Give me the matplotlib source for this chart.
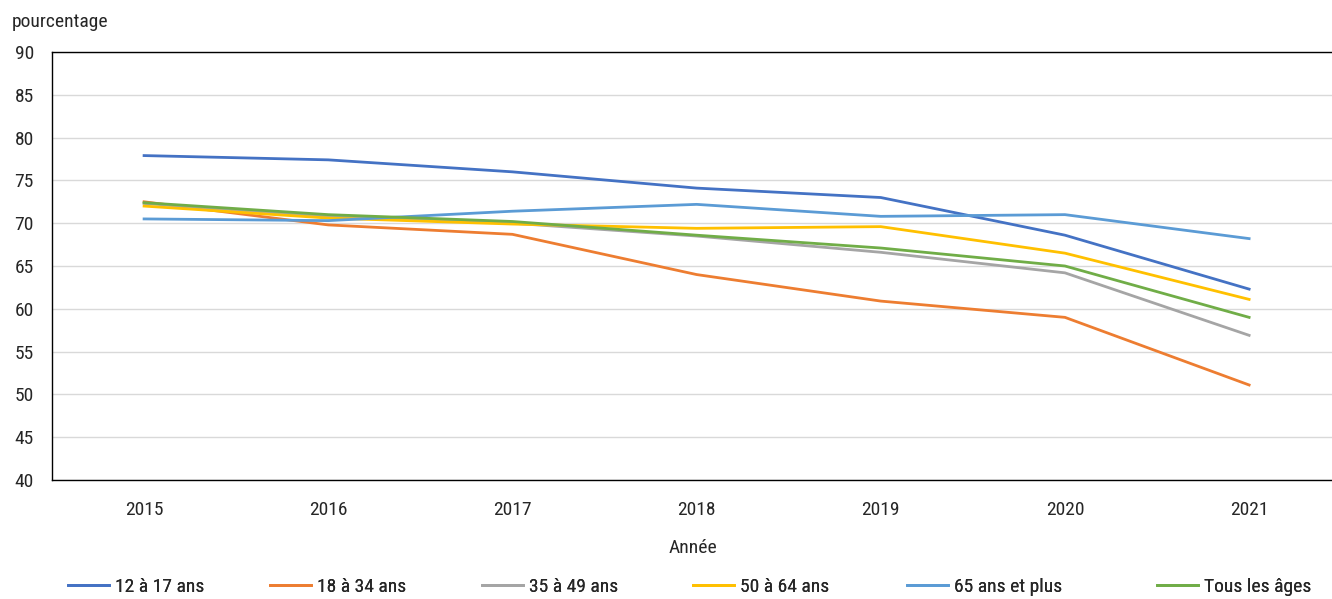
import matplotlib
matplotlib.use("Agg")
import matplotlib.pyplot as plt
from matplotlib import font_manager

names = {f.name for f in font_manager.fontManager.ttflist}
fam = [f for f in ["Liberation Sans Narrow", "Roboto Condensed", "Liberation Sans"] if f in names] + ["DejaVu Sans"]
plt.rcParams['font.family'] = fam
TXT = "#262626"
FS = 14

years = ["2015", "2016", "2017", "2018", "2019", "2020", "2021"]
s_12_17 = [77.9, 77.4, 76.0, 74.1, 73.0, 68.6, 62.3]
s_18_34 = [72.5, 69.8, 68.7, 64.0, 60.9, 59.0, 51.1]
s_35_49 = [72.3, 70.8, 70.0, 68.5, 66.6, 64.2, 56.9]
s_50_64 = [72.0, 70.6, 69.9, 69.4, 69.6, 66.5, 61.1]
s_65 = [70.5, 70.3, 71.4, 72.2, 70.8, 71.0, 68.2]
s_tous = [72.4, 71.0, 70.2, 68.6, 67.1, 65.0, 59.0]

series = [
    ("12 à 17 ans", s_12_17, "#4472C4"),
    ("18 à 34 ans", s_18_34, "#ED7D31"),
    ("35 à 49 ans", s_35_49, "#A5A5A5"),
    ("50 à 64 ans", s_50_64, "#FFC000"),
    ("65 ans et plus", s_65, "#5B9BD5"),
    ("Tous les âges", s_tous, "#70AD47"),
]

W, H = 1332, 599
fig = plt.figure(figsize=(W / 100, H / 100), dpi=100)
left, right, top, bottom = 52, 1332, 52, 480
ax = fig.add_axes([left / W, 1 - bottom / H, (right - left) / W, (bottom - top) / H])

x = list(range(len(years)))
lines = []
for name, vals, col in series:
    ln, = ax.plot(x, vals, color=col, lw=2.0, label=name, solid_joinstyle="round", zorder=3)
    lines.append(ln)

ax.set_ylim(40, 90)
ax.set_yticks(range(40, 91, 5))
ax.set_xlim(-0.5, 6.45)
ax.set_xticks(x)
ax.set_xticklabels(years)
ax.grid(axis="y", color="#D9D9D9", lw=1.0, zorder=0)
ax.set_axisbelow(True)
for s in ["top", "bottom", "left"]:
    ax.spines[s].set_color("black")
    ax.spines[s].set_linewidth(1.0)
ax.spines["right"].set_visible(False)
ax.tick_params(axis="both", length=0, labelsize=FS, colors=TXT)
ax.tick_params(axis="x", pad=15)
ax.tick_params(axis="y", pad=13)

fig.text(693 / W, 1 - 548 / H, "Année", fontsize=FS, va="center", ha="center", color=TXT)
fig.text(12 / W, 1 - 22 / H, "pourcentage", fontsize=FS, va="center", ha="left", color=TXT)

starts = [68, 270, 482, 693, 907, 1157]
for ln, (name, _, _), xs in zip(lines, series, starts):
    leg = fig.legend([ln], [name], loc="center left", frameon=False,
                     bbox_to_anchor=(xs / W, 1 - 587 / H), borderaxespad=0, borderpad=0,
                     fontsize=FS, handlelength=2.1, handletextpad=0.3, labelcolor=TXT)
    fig.add_artist(leg)

fig.savefig("out.png", dpi=100)
